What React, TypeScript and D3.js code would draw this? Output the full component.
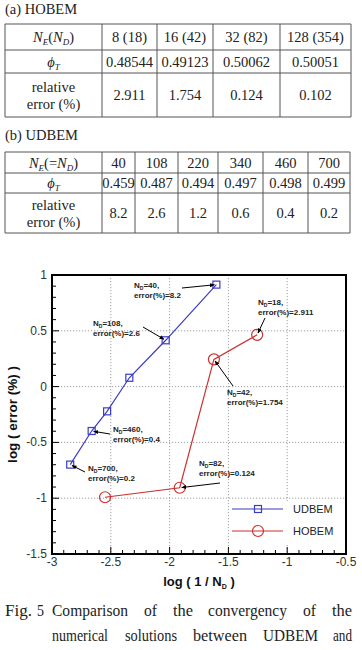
import React from "react";
import * as d3 from "d3";

// HOBEM results
const hobemElements = [8, 16, 32, 128];
const hobemNodes = [18, 42, 82, 354];
const hobemPhi = ["0.48544", "0.49123", "0.50062", "0.50051"];
const hobemError = [2.911, 1.754, 0.124, 0.102];

// UDBEM results
const udbemNodes = [40, 108, 220, 340, 460, 700];
const udbemPhi = ["0.459", "0.487", "0.494", "0.497", "0.498", "0.499"];
const udbemError = [8.2, 2.6, 1.2, 0.6, 0.4, 0.2];

const xTicks = [-3, -2.5, -2, -1.5, -1, -0.5];
const yTicks = [-1.5, -1, -0.5, 0, 0.5, 1];

const W = 362;
const H = 650;

const BLUE = "#3b3bc4";
const RED = "#cc3030";
const SERIF = "'Liberation Serif', 'DejaVu Serif', serif";
const SANS = "'Liberation Sans', Arial, sans-serif";

const x = d3.scaleLinear().domain([-3, -0.5]).range([52, 346]);
const y = d3.scaleLinear().domain([-1.5, 1]).range([554, 275]);

const toPoints = (nodes: number[], errs: number[]) =>
  nodes.map((n, i) => ({ n, err: errs[i], lx: Math.log10(1 / n), ly: Math.log10(errs[i]) }));

const udbemPts = toPoints(udbemNodes, udbemError);
const hobemPts = toPoints(hobemNodes, hobemError);

// callout placement: which point, where the label sits, where the arrow starts
const callouts = [
  { s: "U", i: 0, tx: 134, ty: 288, ax: 182, ay: 288 },
  { s: "U", i: 1, tx: 93, ty: 326, ax: 143, ay: 327 },
  { s: "H", i: 0, tx: 258, ty: 305, ax: 265, ay: 318 },
  { s: "H", i: 1, tx: 227, ty: 395, ax: 233, ay: 386 },
  { s: "H", i: 2, tx: 199, ty: 466, ax: 220, ay: 483 },
  { s: "U", i: 4, tx: 113, ty: 432, ax: 110, ay: 434 },
  { s: "U", i: 5, tx: 88, ty: 471, ax: 85, ay: 472 },
];

const captionLines: [string, number, number][][] = [
  [
    ["Fig.", 5, 32],
    ["5", 37, 44],
    ["Comparison", 52, 128],
    ["of", 144, 157],
    ["the", 173, 193],
    ["convergency", 208, 287],
    ["of", 303, 316],
    ["the", 332, 352],
  ],
  [
    ["numerical", 52, 108],
    ["solutions", 125, 177],
    ["between", 193, 247],
    ["UDBEM", 263, 318],
    ["and", 333, 352],
  ],
];

function NSub({ sub, eq }: { sub: string; eq?: boolean }) {
  return (
    <>
      <tspan fontStyle="italic">N</tspan>
      <tspan fontStyle="italic" fontSize={9} dy={3}>{sub}</tspan>
      <tspan dy={-3}>{eq ? "(=" : "("}</tspan>
      <tspan fontStyle="italic">N</tspan>
      <tspan fontStyle="italic" fontSize={9} dy={3}>D</tspan>
      <tspan dy={-3}>)</tspan>
    </>
  );
}

function Phi() {
  return (
    <>
      <tspan fontStyle="italic">ϕ</tspan>
      <tspan fontStyle="italic" fontSize={9} dy={3}>T</tspan>
    </>
  );
}

function Table({
  cols,
  rows,
  header,
  headerCells,
  phis,
  errs,
}: {
  cols: number[];
  rows: number[];
  header: React.ReactNode;
  headerCells: string[];
  phis: string[];
  errs: number[];
}) {
  const mid = (a: number[], i: number) => (a[i] + a[i + 1]) / 2;
  const lineColor = "#555";
  const r3 = mid(rows, 2);
  return (
    <g fontFamily={SERIF} fontSize={14.5} fill="#222">
      {rows.map((r, i) => (
        <line key={"h" + i} x1={cols[0]} x2={cols[cols.length - 1]} y1={r} y2={r} stroke={lineColor} strokeWidth={1} />
      ))}
      {cols.map((c, i) => (
        <line key={"v" + i} x1={c} x2={c} y1={rows[0]} y2={rows[rows.length - 1]} stroke={lineColor} strokeWidth={1} />
      ))}
      <text x={mid(cols, 0)} y={mid(rows, 0) + 5} textAnchor="middle">{header}</text>
      <text x={mid(cols, 0)} y={mid(rows, 1) + 5} textAnchor="middle"><Phi /></text>
      <text x={mid(cols, 0)} y={r3 - 3} textAnchor="middle">relative</text>
      <text x={mid(cols, 0)} y={r3 + 14} textAnchor="middle">error (%)</text>
      {headerCells.map((t, i) => (
        <text key={"c" + i} x={mid(cols, i + 1)} y={mid(rows, 0) + 5} textAnchor="middle">{t}</text>
      ))}
      {phis.map((t, i) => (
        <text key={"p" + i} x={mid(cols, i + 1)} y={mid(rows, 1) + 5} textAnchor="middle">{t}</text>
      ))}
      {errs.map((v, i) => (
        <text key={"e" + i} x={mid(cols, i + 1)} y={r3 + 5} textAnchor="middle">{String(v)}</text>
      ))}
    </g>
  );
}

export default function App() {
  const line = d3
    .line<{ lx: number; ly: number }>()
    .x((d) => x(d.lx))
    .y((d) => y(d.ly));

  const minorX = d3.range(-3, -0.5 + 1e-9, 0.1).map((v) => +v.toFixed(2));
  const minorY = d3.range(-1.5, 1 + 1e-9, 0.1).map((v) => +v.toFixed(2));
  const gridX = xTicks.filter((v) => v > -3 && v < -0.5);
  const gridY = yTicks.filter((v) => v > -1.5 && v < 1);
  const [x0, x1] = x.range();
  const [y0, y1] = y.range();

  return (
    <svg
      width={W}
      height={H}
      viewBox={`0 0 ${W} ${H}`}
      style={{ position: "absolute", left: 0, top: 0, background: "#fff" }}
    >
      <defs>
        <marker id="arrowHead" viewBox="0 0 10 10" refX={9} refY={5} markerWidth={5} markerHeight={5} orient="auto">
          <path d="M0,1 L10,5 L0,9 Z" fill="#000" />
        </marker>
      </defs>
      <rect width={W} height={H} fill="#fff" />

      {/* (a) HOBEM table */}
      <text x={5} y={14} fontFamily={SERIF} fontSize={14.5} fill="#222">
        (a)  HOBEM
      </text>
      <Table
        cols={[5, 102, 157, 213, 280, 351]}
        rows={[24, 50, 73, 117]}
        header={<NSub sub="E" />}
        headerCells={hobemElements.map((e, i) => `${e} (${hobemNodes[i]})`)}
        phis={hobemPhi}
        errs={hobemError}
      />

      {/* (b) UDBEM table */}
      <text x={5} y={140} fontFamily={SERIF} fontSize={14.5} fill="#222">
        (b)  UDBEM
      </text>
      <Table
        cols={[5, 102, 135, 178, 218, 263, 308, 350]}
        rows={[152, 173, 193, 233]}
        header={<NSub sub="E" eq />}
        headerCells={udbemNodes.map(String)}
        phis={udbemPhi}
        errs={udbemError}
      />

      {/* grid */}
      <g stroke="#888" strokeWidth={0.8} strokeDasharray="1.2,1.8">
        {gridX.map((v) => (
          <line key={"gx" + v} x1={x(v)} x2={x(v)} y1={y1} y2={y0} />
        ))}
        {gridY.map((v) => (
          <line key={"gy" + v} x1={x0} x2={x1} y1={y(v)} y2={y(v)} />
        ))}
      </g>

      {/* ticks */}
      <g stroke="#000" strokeWidth={1}>
        {minorX.map((v) => {
          const major = Math.abs(v * 2 - Math.round(v * 2)) < 1e-6;
          return <line key={"tx" + v} x1={x(v)} x2={x(v)} y1={y0} y2={y0 - (major ? 7 : 4)} />;
        })}
        {minorY.map((v) => {
          const major = Math.abs(v * 2 - Math.round(v * 2)) < 1e-6;
          return <line key={"ty" + v} x1={x0} x2={x0 + (major ? 7 : 4)} y1={y(v)} y2={y(v)} />;
        })}
      </g>

      {/* tick labels */}
      <g fontFamily={SANS} fontSize={12} fill="#333">
        {xTicks.map((v) => (
          <text key={"lx" + v} x={x(v)} y={y0 + 12} textAnchor="middle">{String(v)}</text>
        ))}
        {yTicks.map((v) => (
          <text key={"ly" + v} x={x0 - 5} y={y(v) + 4} textAnchor="end">{String(v)}</text>
        ))}
      </g>

      {/* axis titles */}
      <text x={199} y={586} textAnchor="middle" fontFamily={SANS} fontWeight="bold" fontSize={13} fill="#111">
        log ( 1 / N<tspan fontSize={7} dy={3}>D</tspan>
        <tspan dy={-3}> )</tspan>
      </text>
      <text
        transform={`translate(17,${(y0 + y1) / 2}) rotate(-90)`}
        textAnchor="middle"
        fontFamily={SANS}
        fontWeight="bold"
        fontSize={13.5}
        fill="#111"
      >
        log ( error (%) )
      </text>

      {/* series */}
      <path d={line(udbemPts) || ""} fill="none" stroke={BLUE} strokeWidth={1.2} />
      {udbemPts.map((p, i) => (
        <rect key={"u" + i} x={x(p.lx) - 3.5} y={y(p.ly) - 3.5} width={7} height={7} fill="none" stroke={BLUE} strokeWidth={1.2} />
      ))}
      <path d={line(hobemPts) || ""} fill="none" stroke={RED} strokeWidth={1.2} />
      {hobemPts.map((p, i) => (
        <circle key={"h" + i} cx={x(p.lx)} cy={y(p.ly)} r={5.5} fill="none" stroke={RED} strokeWidth={1.2} />
      ))}

      {/* callouts */}
      <g fontFamily={SANS} fontWeight="bold" fontSize={8} fill="#222">
        {callouts.map((c, k) => {
          const p = (c.s === "U" ? udbemPts : hobemPts)[c.i];
          const px = x(p.lx);
          const py = y(p.ly);
          const dx = px - c.ax;
          const dy = py - c.ay;
          const len = Math.hypot(dx, dy);
          const ex = px - (dx / len) * 2;
          const ey = py - (dy / len) * 2;
          return (
            <g key={"c" + k}>
              <line x1={c.ax} y1={c.ay} x2={ex} y2={ey} stroke="#000" strokeWidth={1} markerEnd="url(#arrowHead)" />
              <text x={c.tx} y={c.ty}>
                N<tspan fontSize={5} dy={1.5}>D</tspan>
                <tspan dy={-1.5}>={p.n},</tspan>
              </text>
              <text x={c.tx} y={c.ty + 10}>error(%)={String(p.err)}</text>
            </g>
          );
        })}
      </g>

      {/* legend */}
      <g>
        <rect x={229} y={501} width={115} height={44} fill="#fff" />
        <line x1={232} x2={283} y1={509} y2={509} stroke={BLUE} strokeWidth={1.2} />
        <rect x={258 - 3.5} y={509 - 3.5} width={7} height={7} fill="none" stroke={BLUE} strokeWidth={1.2} />
        <text x={293} y={513} fontFamily={SANS} fontSize={11} fill="#222">UDBEM</text>
        <line x1={232} x2={283} y1={531} y2={531} stroke={RED} strokeWidth={1.2} />
        <circle cx={258} cy={531} r={5.5} fill="none" stroke={RED} strokeWidth={1.2} />
        <text x={293} y={535} fontFamily={SANS} fontSize={11} fill="#222">HOBEM</text>
      </g>

      {/* frame */}
      <rect x={x0} y={y1} width={x1 - x0} height={y0 - y1} fill="none" stroke="#000" strokeWidth={2} />

      {/* caption */}
      <g fontFamily={SERIF} fontSize={16} fill="#222">
        {captionLines.map((ln, li) =>
          ln.map(([w, a, b], wi) => (
            <text key={li + "-" + wi} x={a} y={616 + li * 25} textLength={b - a} lengthAdjust="spacingAndGlyphs">
              {w}
            </text>
          ))
        )}
      </g>
    </svg>
  );
}
